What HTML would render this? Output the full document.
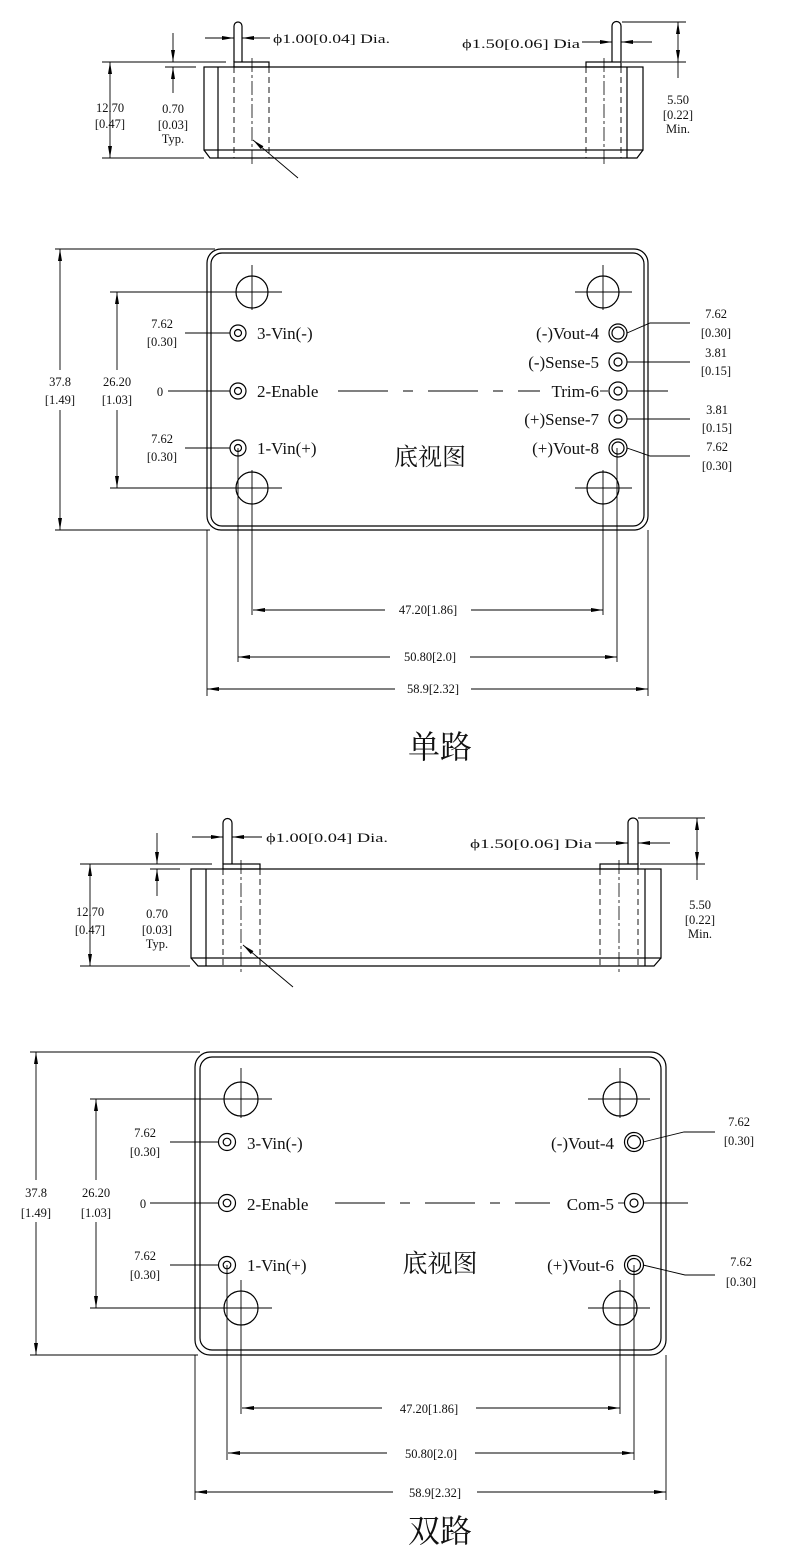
<!DOCTYPE html>
<html><head><meta charset="utf-8"><style>
html,body{margin:0;padding:0;background:#fff}
svg{display:block}
text{font-family:"Liberation Serif","Noto Serif CJK SC",serif;fill:#111}
.t{font-size:14px}
.l{font-size:17px}
.s{font-size:12.5px}
</style></head><body>
<svg width="785" height="1563" viewBox="0 0 785 1563" xmlns="http://www.w3.org/2000/svg">
<defs>
<marker id="a" viewBox="0 0 12 4" refX="12" refY="2" markerWidth="12" markerHeight="4" markerUnits="userSpaceOnUse" orient="auto-start-reverse"><path d="M0 0L12 2L0 4Z" fill="#000"/></marker>
</defs>
<g stroke="#000" stroke-width="1.2" fill="none">
<!-- ===== SECTION 1 SIDE ===== -->
<rect x="204" y="67" width="439" height="83"/>
<path d="M204 150L210 158H637L643 150"/>
<line x1="218" y1="67" x2="218" y2="158"/><line x1="627" y1="67" x2="627" y2="158"/>
<path d="M234 62V26A4 4 0 0 1 242 26V62"/>
<rect x="234" y="62" width="35" height="5"/>
<path d="M612 62V26A4.5 4.5 0 0 1 621 26V62"/>
<rect x="586" y="62" width="35" height="5"/>
<g stroke-dasharray="6,4" stroke-width="0.9">
<line x1="234" y1="67" x2="234" y2="158"/><line x1="269" y1="67" x2="269" y2="158"/>
<line x1="586" y1="67" x2="586" y2="158"/><line x1="621" y1="67" x2="621" y2="158"/>
</g>
<g stroke-dasharray="14,3,3,3" stroke-width="0.8">
<line x1="252" y1="58" x2="252" y2="165"/><line x1="604" y1="58" x2="604" y2="165"/>
</g>
<g stroke-width="0.9">
<line x1="102" y1="62" x2="226" y2="62"/><line x1="102" y1="158" x2="204" y2="158"/>
<line x1="165" y1="67" x2="196" y2="67"/>
<line x1="622" y1="22" x2="686" y2="22"/><line x1="622" y1="62" x2="686" y2="62"/>
<line x1="110" y1="62" x2="110" y2="158" marker-start="url(#a)" marker-end="url(#a)"/>
<line x1="173" y1="33" x2="173" y2="62" marker-end="url(#a)"/>
<line x1="173" y1="93" x2="173" y2="67" marker-end="url(#a)"/>
<line x1="678" y1="22" x2="678" y2="62" marker-start="url(#a)" marker-end="url(#a)"/>
<line x1="678" y1="62" x2="678" y2="78"/>
<line x1="205" y1="38" x2="234" y2="38" marker-end="url(#a)"/>
<line x1="270" y1="38" x2="242" y2="38" marker-end="url(#a)"/>
<line x1="582" y1="42" x2="612" y2="42" marker-end="url(#a)"/>
<line x1="652" y1="42" x2="621" y2="42" marker-end="url(#a)"/>
<line x1="298" y1="178" x2="253" y2="140" marker-end="url(#a)"/>
</g>
<!-- ===== SECTION 1 BOTTOM ===== -->
<rect x="207" y="249" width="441" height="281" rx="14"/>
<rect x="211" y="253" width="433" height="273" rx="11"/>
<g>
<circle cx="252" cy="292" r="16"/><circle cx="603" cy="292" r="16"/>
<circle cx="252" cy="488" r="16"/><circle cx="603" cy="488" r="16"/>
</g>
<g stroke-width="0.9">
<line x1="220" y1="292" x2="280" y2="292"/><line x1="252" y1="265" x2="252" y2="310"/>
<line x1="575" y1="292" x2="632" y2="292"/><line x1="603" y1="265" x2="603" y2="310"/>
<line x1="220" y1="488" x2="280" y2="488"/><line x1="252" y1="470" x2="252" y2="615"/>
<line x1="575" y1="488" x2="632" y2="488"/><line x1="603" y1="470" x2="603" y2="615"/>
<line x1="238" y1="448" x2="238" y2="662"/><line x1="617" y1="448" x2="617" y2="662"/>
<line x1="207" y1="530" x2="207" y2="696"/><line x1="648" y1="530" x2="648" y2="696"/>
<line x1="55" y1="249" x2="215" y2="249"/><line x1="55" y1="530" x2="210" y2="530"/>
<line x1="110" y1="292" x2="282" y2="292"/><line x1="110" y1="488" x2="282" y2="488"/>
<line x1="60" y1="249" x2="60" y2="370" marker-start="url(#a)"/><line x1="60" y1="410" x2="60" y2="530" marker-end="url(#a)"/>
<line x1="117" y1="292" x2="117" y2="370" marker-start="url(#a)"/><line x1="117" y1="410" x2="117" y2="488" marker-end="url(#a)"/>
<line x1="185" y1="333" x2="230" y2="333"/><line x1="168" y1="391" x2="230" y2="391"/><line x1="185" y1="448" x2="230" y2="448"/>
<path d="M627 333L650 323H690"/><line x1="627" y1="362" x2="690" y2="362"/><line x1="627" y1="419" x2="690" y2="419"/>
<path d="M627 448L650 456H690"/>
<line x1="627" y1="391" x2="668" y2="391"/>
<line x1="338" y1="391" x2="540" y2="391" stroke-dasharray="50,15,10,15"/>
<line x1="600" y1="391" x2="608" y2="391"/>
<line x1="253" y1="610" x2="385" y2="610" marker-start="url(#a)"/><line x1="471" y1="610" x2="603" y2="610" marker-end="url(#a)"/>
<line x1="238" y1="657" x2="390" y2="657" marker-start="url(#a)"/><line x1="470" y1="657" x2="617" y2="657" marker-end="url(#a)"/>
<line x1="207" y1="689" x2="395" y2="689" marker-start="url(#a)"/><line x1="471" y1="689" x2="648" y2="689" marker-end="url(#a)"/>
</g>
<g>
<circle cx="238" cy="333" r="8"/><circle cx="238" cy="333" r="3.5"/>
<circle cx="238" cy="391" r="8"/><circle cx="238" cy="391" r="3.5"/>
<circle cx="238" cy="448" r="8"/><circle cx="238" cy="448" r="3.5"/>
<circle cx="618" cy="333" r="9"/><circle cx="618" cy="333" r="6"/>
<circle cx="618" cy="362" r="9"/><circle cx="618" cy="362" r="4"/>
<circle cx="618" cy="391" r="9"/><circle cx="618" cy="391" r="4"/>
<circle cx="618" cy="419" r="9"/><circle cx="618" cy="419" r="4"/>
<circle cx="618" cy="448" r="9"/><circle cx="618" cy="448" r="6"/>
</g>
<!-- ===== SECTION 2 SIDE ===== -->
<rect x="191" y="869" width="470" height="89"/>
<path d="M191 958L198 966H654L661 958"/>
<line x1="206" y1="869" x2="206" y2="966"/><line x1="645" y1="869" x2="645" y2="966"/>
<path d="M223 864V823A4.5 4.5 0 0 1 232 823V864"/>
<rect x="223" y="864" width="37" height="5"/>
<path d="M628 864V823A5 5 0 0 1 638 823V864"/>
<rect x="600" y="864" width="38" height="5"/>
<g stroke-dasharray="6,4" stroke-width="0.9">
<line x1="223" y1="869" x2="223" y2="966"/><line x1="260" y1="869" x2="260" y2="966"/>
<line x1="600" y1="869" x2="600" y2="966"/><line x1="638" y1="869" x2="638" y2="966"/>
</g>
<g stroke-dasharray="14,3,3,3" stroke-width="0.8">
<line x1="241" y1="860" x2="241" y2="972"/><line x1="619" y1="860" x2="619" y2="972"/>
</g>
<g stroke-width="0.9">
<line x1="80" y1="864" x2="212" y2="864"/><line x1="80" y1="966" x2="190" y2="966"/>
<line x1="150" y1="869" x2="180" y2="869"/>
<line x1="638" y1="818" x2="705" y2="818"/><line x1="640" y1="864" x2="705" y2="864"/>
<line x1="90" y1="864" x2="90" y2="966" marker-start="url(#a)" marker-end="url(#a)"/>
<line x1="157" y1="833" x2="157" y2="864" marker-end="url(#a)"/>
<line x1="157" y1="896" x2="157" y2="869" marker-end="url(#a)"/>
<line x1="697" y1="818" x2="697" y2="864" marker-start="url(#a)" marker-end="url(#a)"/>
<line x1="697" y1="864" x2="697" y2="880"/>
<line x1="192" y1="837" x2="223" y2="837" marker-end="url(#a)"/>
<line x1="262" y1="837" x2="232" y2="837" marker-end="url(#a)"/>
<line x1="595" y1="843" x2="628" y2="843" marker-end="url(#a)"/>
<line x1="670" y1="843" x2="638" y2="843" marker-end="url(#a)"/>
<line x1="293" y1="987" x2="243" y2="945" marker-end="url(#a)"/>
</g>
<!-- ===== SECTION 2 BOTTOM ===== -->
<rect x="195" y="1052" width="471" height="303" rx="15"/>
<rect x="200" y="1057" width="461" height="293" rx="12"/>
<g>
<ellipse cx="241" cy="1099" rx="17" ry="17"/><ellipse cx="620" cy="1099" rx="17" ry="17"/>
<ellipse cx="241" cy="1308" rx="17" ry="17"/><ellipse cx="620" cy="1308" rx="17" ry="17"/>
</g>
<g stroke-width="0.9">
<line x1="210" y1="1099" x2="272" y2="1099"/><line x1="241" y1="1068" x2="241" y2="1118"/>
<line x1="588" y1="1099" x2="650" y2="1099"/><line x1="620" y1="1068" x2="620" y2="1118"/>
<line x1="210" y1="1308" x2="272" y2="1308"/><line x1="241" y1="1280" x2="241" y2="1414"/>
<line x1="588" y1="1308" x2="650" y2="1308"/><line x1="620" y1="1280" x2="620" y2="1414"/>
<line x1="227" y1="1265" x2="227" y2="1460"/><line x1="634" y1="1265" x2="634" y2="1460"/>
<line x1="195" y1="1355" x2="195" y2="1500"/><line x1="666" y1="1355" x2="666" y2="1500"/>
<line x1="30" y1="1052" x2="200" y2="1052"/><line x1="30" y1="1355" x2="198" y2="1355"/>
<line x1="90" y1="1099" x2="272" y2="1099"/><line x1="90" y1="1308" x2="272" y2="1308"/>
<line x1="36" y1="1052" x2="36" y2="1180" marker-start="url(#a)"/><line x1="36" y1="1222" x2="36" y2="1355" marker-end="url(#a)"/>
<line x1="96" y1="1099" x2="96" y2="1180" marker-start="url(#a)"/><line x1="96" y1="1222" x2="96" y2="1308" marker-end="url(#a)"/>
<line x1="170" y1="1142" x2="219" y2="1142"/><line x1="150" y1="1203" x2="219" y2="1203"/><line x1="170" y1="1265" x2="219" y2="1265"/>
<path d="M643 1142L684 1132H715"/><path d="M643 1265L685 1275H715"/>
<line x1="643" y1="1203" x2="688" y2="1203"/><line x1="618" y1="1203" x2="624" y2="1203"/>
<line x1="335" y1="1203" x2="550" y2="1203" stroke-dasharray="50,15,10,15"/>
<line x1="242" y1="1408" x2="382" y2="1408" marker-start="url(#a)"/><line x1="476" y1="1408" x2="620" y2="1408" marker-end="url(#a)"/>
<line x1="228" y1="1453" x2="387" y2="1453" marker-start="url(#a)"/><line x1="475" y1="1453" x2="634" y2="1453" marker-end="url(#a)"/>
<line x1="195" y1="1492" x2="393" y2="1492" marker-start="url(#a)"/><line x1="477" y1="1492" x2="666" y2="1492" marker-end="url(#a)"/>
</g>
<g>
<circle cx="227" cy="1142" r="8.5"/><circle cx="227" cy="1142" r="3.8"/>
<circle cx="227" cy="1203" r="8.5"/><circle cx="227" cy="1203" r="3.8"/>
<circle cx="227" cy="1265" r="8.5"/><circle cx="227" cy="1265" r="3.8"/>
<circle cx="634" cy="1142" r="9.5"/><circle cx="634" cy="1142" r="6.5"/>
<circle cx="634" cy="1203" r="9.5"/><circle cx="634" cy="1203" r="4"/>
<circle cx="634" cy="1265" r="9.5"/><circle cx="634" cy="1265" r="6.5"/>
</g>
</g>

<!-- TEXT section 1 -->
<g class="s">
<text x="273" y="43" textLength="117" lengthAdjust="spacingAndGlyphs">ϕ1.00[0.04] Dia.</text>
<text x="462" y="48" textLength="118" lengthAdjust="spacingAndGlyphs">ϕ1.50[0.06] Dia</text>
<text x="110" y="112" text-anchor="middle">12.70</text><text x="110" y="128" text-anchor="middle">[0.47]</text>
<text x="173" y="113" text-anchor="middle">0.70</text><text x="173" y="129" text-anchor="middle">[0.03]</text><text x="173" y="143" text-anchor="middle">Typ.</text>
<text x="678" y="104" text-anchor="middle">5.50</text><text x="678" y="119" text-anchor="middle">[0.22]</text><text x="678" y="133" text-anchor="middle">Min.</text>
<text x="60" y="386" text-anchor="middle">37.8</text><text x="60" y="404" text-anchor="middle">[1.49]</text>
<text x="117" y="386" text-anchor="middle">26.20</text><text x="117" y="404" text-anchor="middle">[1.03]</text>
<text x="162" y="328" text-anchor="middle">7.62</text><text x="162" y="346" text-anchor="middle">[0.30]</text>
<text x="162" y="443" text-anchor="middle">7.62</text><text x="162" y="461" text-anchor="middle">[0.30]</text>
<text x="160" y="396" text-anchor="middle">0</text>
<text x="716" y="318" text-anchor="middle">7.62</text><text x="716" y="337" text-anchor="middle">[0.30]</text>
<text x="716" y="357" text-anchor="middle">3.81</text><text x="716" y="375" text-anchor="middle">[0.15]</text>
<text x="717" y="414" text-anchor="middle">3.81</text><text x="717" y="432" text-anchor="middle">[0.15]</text>
<text x="717" y="451" text-anchor="middle">7.62</text><text x="717" y="470" text-anchor="middle">[0.30]</text>
<text x="428" y="614" text-anchor="middle">47.20[1.86]</text>
<text x="430" y="661" text-anchor="middle">50.80[2.0]</text>
<text x="433" y="693" text-anchor="middle">58.9[2.32]</text>
</g>
<g class="l">
<text x="257" y="339">3-Vin(-)</text>
<text x="257" y="397">2-Enable</text>
<text x="257" y="454">1-Vin(+)</text>
<text x="599" y="339" text-anchor="end">(-)Vout-4</text>
<text x="599" y="368" text-anchor="end">(-)Sense-5</text>
<text x="599" y="397" text-anchor="end">Trim-6</text>
<text x="599" y="425" text-anchor="end">(+)Sense-7</text>
<text x="599" y="454" text-anchor="end">(+)Vout-8</text>
</g>
<text x="430" y="465" text-anchor="middle" style="font-size:24px">底视图</text>
<text x="440" y="758" text-anchor="middle" style="font-size:32px">单路</text>

<!-- TEXT section 2 -->
<g class="s">
<text x="266" y="842" textLength="122" lengthAdjust="spacingAndGlyphs">ϕ1.00[0.04] Dia.</text>
<text x="470" y="848" textLength="122" lengthAdjust="spacingAndGlyphs">ϕ1.50[0.06] Dia</text>
<text x="90" y="916" text-anchor="middle">12.70</text><text x="90" y="934" text-anchor="middle">[0.47]</text>
<text x="157" y="918" text-anchor="middle">0.70</text><text x="157" y="934" text-anchor="middle">[0.03]</text><text x="157" y="948" text-anchor="middle">Typ.</text>
<text x="700" y="909" text-anchor="middle">5.50</text><text x="700" y="924" text-anchor="middle">[0.22]</text><text x="700" y="938" text-anchor="middle">Min.</text>
<text x="36" y="1197" text-anchor="middle">37.8</text><text x="36" y="1217" text-anchor="middle">[1.49]</text>
<text x="96" y="1197" text-anchor="middle">26.20</text><text x="96" y="1217" text-anchor="middle">[1.03]</text>
<text x="145" y="1137" text-anchor="middle">7.62</text><text x="145" y="1156" text-anchor="middle">[0.30]</text>
<text x="145" y="1260" text-anchor="middle">7.62</text><text x="145" y="1279" text-anchor="middle">[0.30]</text>
<text x="143" y="1208" text-anchor="middle">0</text>
<text x="739" y="1126" text-anchor="middle">7.62</text><text x="739" y="1145" text-anchor="middle">[0.30]</text>
<text x="741" y="1266" text-anchor="middle">7.62</text><text x="741" y="1286" text-anchor="middle">[0.30]</text>
<text x="429" y="1413" text-anchor="middle">47.20[1.86]</text>
<text x="431" y="1458" text-anchor="middle">50.80[2.0]</text>
<text x="435" y="1497" text-anchor="middle">58.9[2.32]</text>
</g>
<g class="l">
<text x="247" y="1149">3-Vin(-)</text>
<text x="247" y="1210">2-Enable</text>
<text x="247" y="1271">1-Vin(+)</text>
<text x="614" y="1149" text-anchor="end">(-)Vout-4</text>
<text x="614" y="1210" text-anchor="end">Com-5</text>
<text x="614" y="1271" text-anchor="end">(+)Vout-6</text>
</g>
<text x="440" y="1272" text-anchor="middle" style="font-size:25px">底视图</text>
<text x="440" y="1542" text-anchor="middle" style="font-size:32px">双路</text>
</svg>
</body></html>
